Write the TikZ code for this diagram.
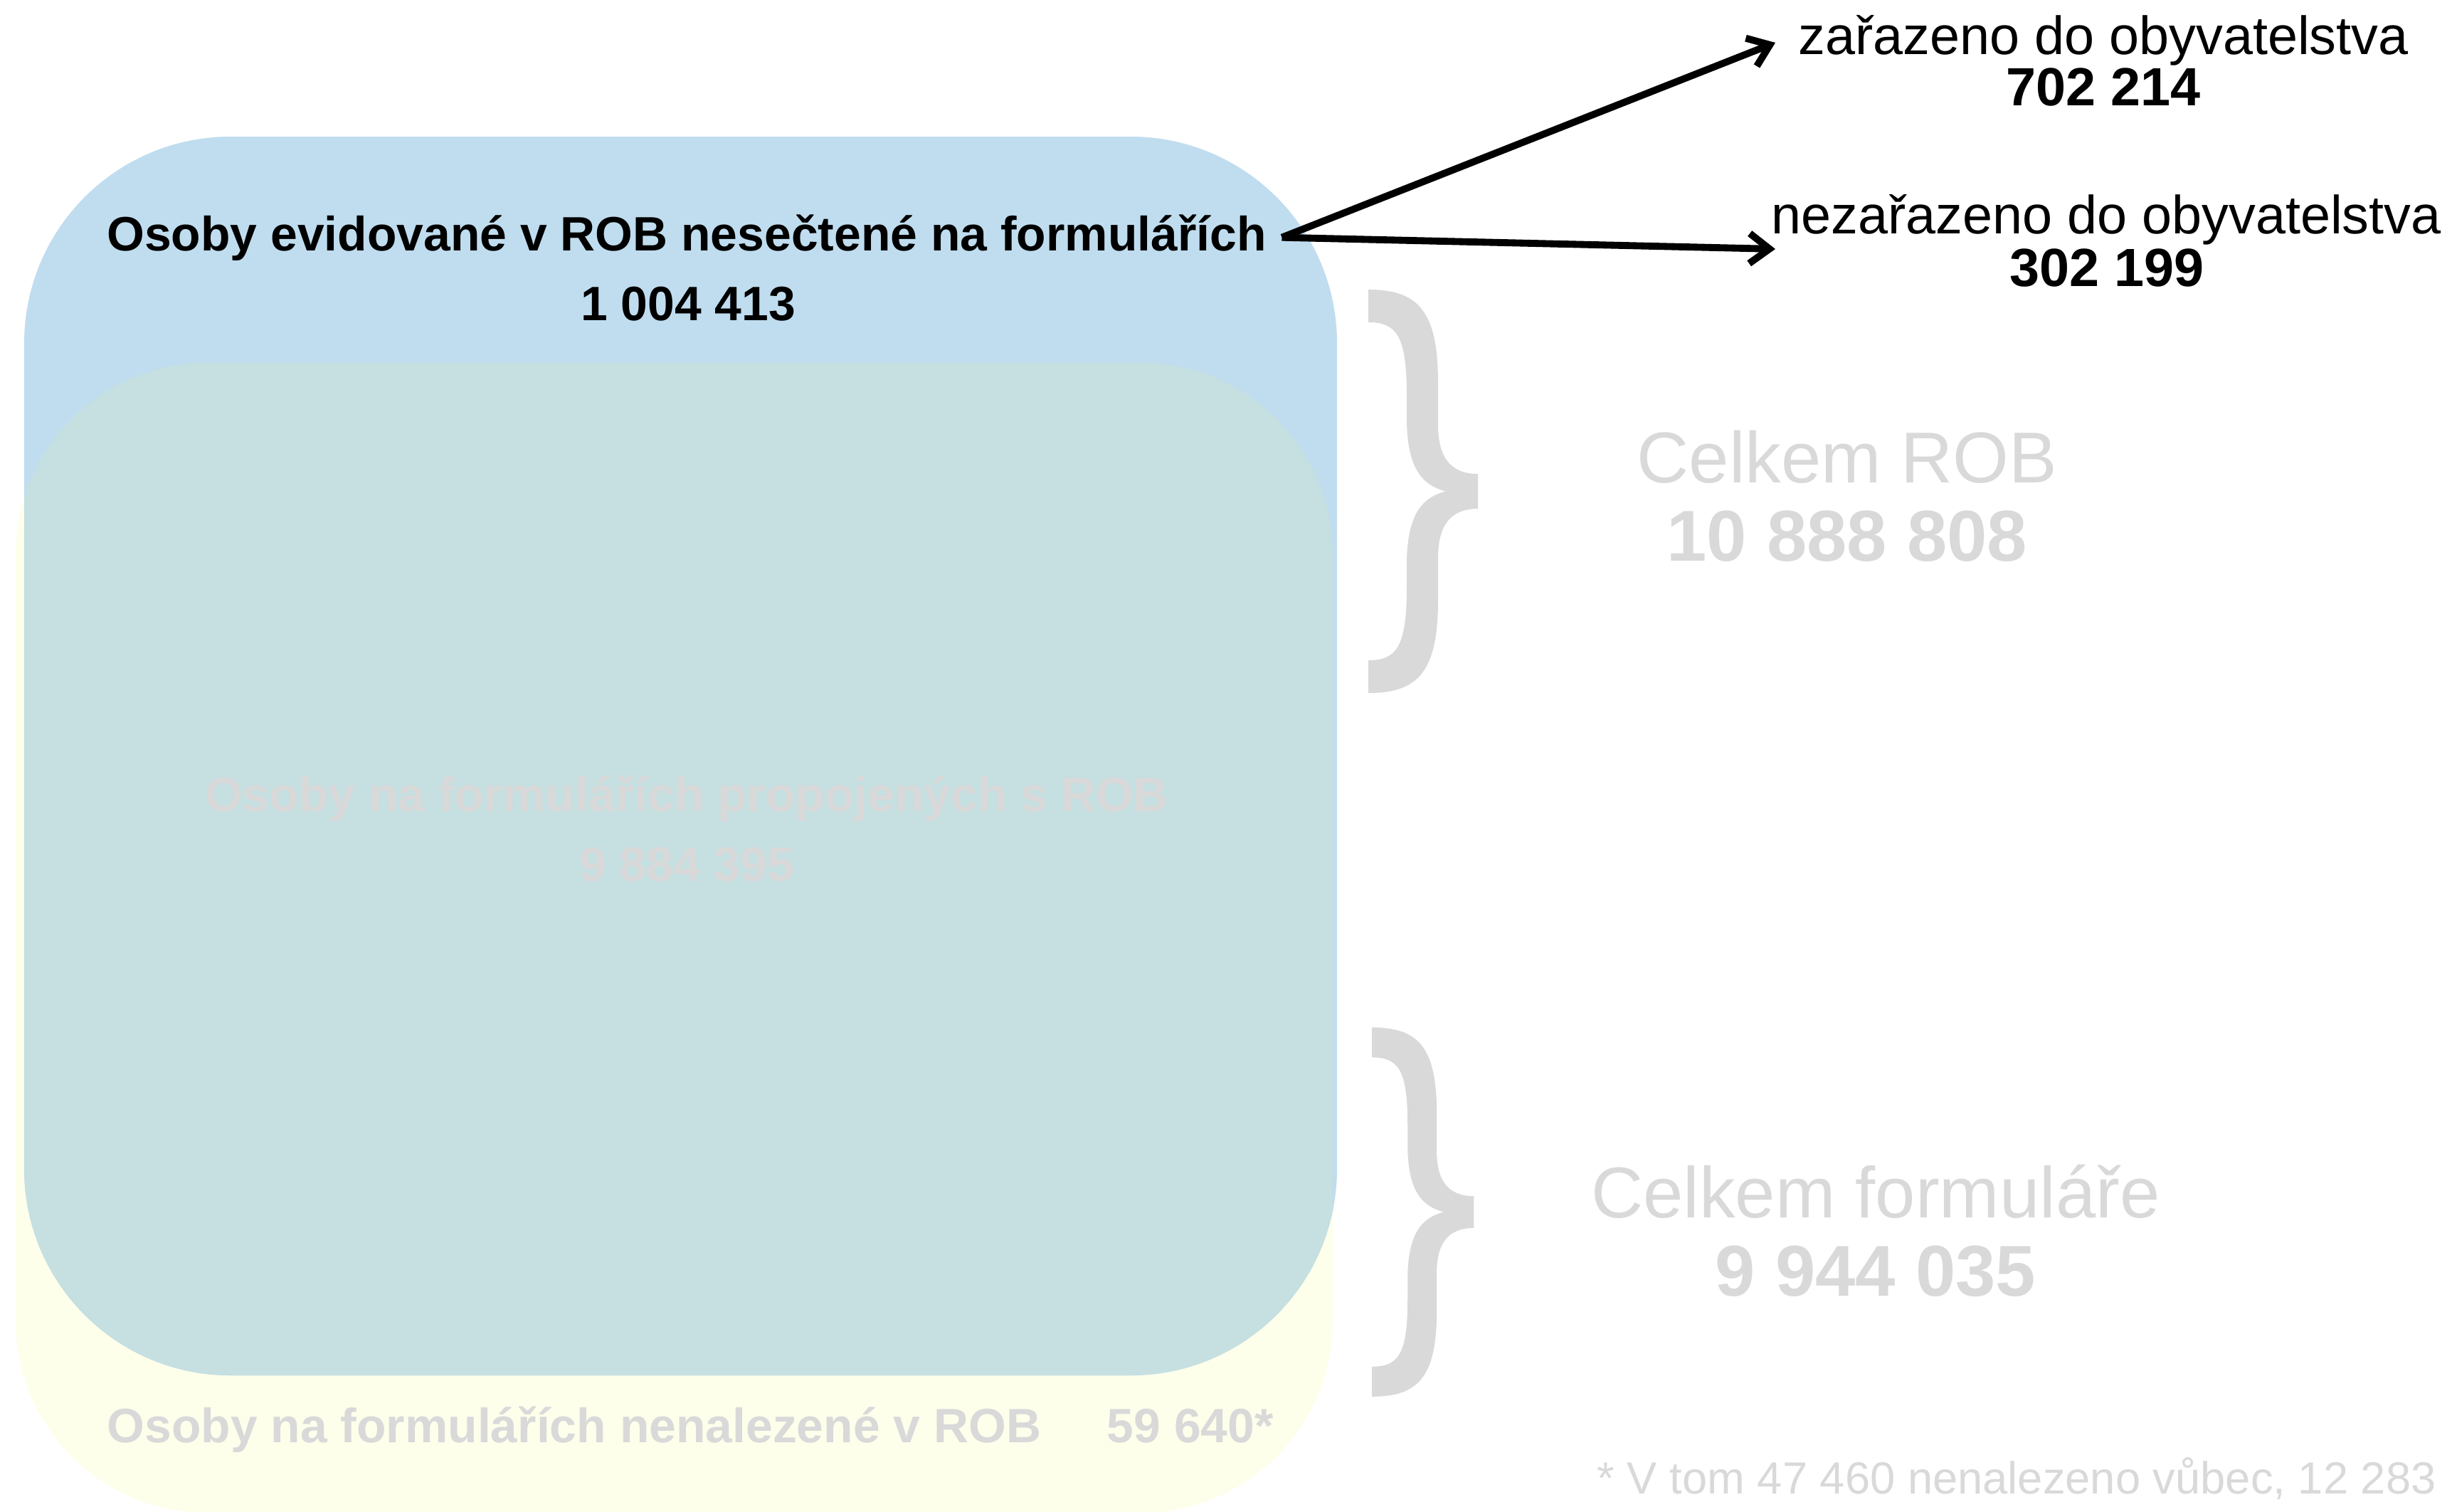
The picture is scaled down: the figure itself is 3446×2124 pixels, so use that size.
\documentclass[tikz,border=0pt]{standalone}
\usepackage{fontspec}
\setmainfont{Liberation Sans}
\usetikzlibrary{arrows.meta, positioning}

\definecolor{robblue}{HTML}{C0DDEF}
\definecolor{formyellow}{HTML}{FDFFEB}
\definecolor{overlap}{HTML}{C6DFE1}
\definecolor{lightgrey}{HTML}{D9D9D9}

\tikzset{
  setbrace/.pic={
    \fill[lightgrey] (0,0) .. controls (70,0) and (98,30) .. (98,131) -- (98,190)
      .. controls (98,235) and (115,259) .. (154,259) -- (154,308)
      .. controls (115,308) and (98,332) .. (98,377) -- (98,436)
      .. controls (98,537) and (70,567) .. (0,567) -- (0,521)
      .. controls (40,521) and (54,502) .. (54,417) -- (54,387)
      .. controls (54,317) and (75,292) .. (109,283.5)
      .. controls (75,275) and (54,250) .. (54,180) -- (54,150)
      .. controls (54,65) and (40,46) .. (0,46) -- cycle;
  }
}

\begin{document}
\begin{tikzpicture}[x=0.01cm, y=-0.01cm,
    lbl/.style={inner sep=0pt, anchor=base, font=\fontsize{19.3}{23}\selectfont\bfseries},
    side/.style={inner sep=0pt, anchor=base, font=\fontsize{21.5}{26}\selectfont},
    sidenum/.style={side, font=\fontsize{21.5}{26}\selectfont\bfseries},
    total/.style={inner sep=0pt, anchor=base, text=lightgrey, font=\fontsize{28.8}{34}\selectfont},
    totalnum/.style={total, font=\fontsize{28.8}{34}\selectfont\bfseries},
    arr/.style={-{Straight Barb[length=8pt, width=12pt]}, line width=2.8pt}]

    \useasboundingbox (0,0) rectangle (3446,2124);

    % ROB and formulare sets
    \fill[formyellow, rounded corners=2.69cm] (22,510) rectangle (1873,2126);
    \fill[robblue, rounded corners=2.9cm] (34,192) rectangle (1879,1933);
    \begin{scope}
        \clip[rounded corners=2.69cm] (22,510) rectangle (1873,2126);
        \fill[overlap, rounded corners=2.9cm] (34,192) rectangle (1879,1933);
    \end{scope}

    \node[lbl, inner sep=6pt] (osoby) at (965,352) {Osoby evidované v ROB nesečtené na formulářích};
    \node[lbl] (osobynum) at (967,450) {1 004 413};
    \node[lbl, text=lightgrey] (propojene) at (965,1140) {Osoby na formulářích propojených s ROB};
    \node[lbl, text=lightgrey] (propojenenum) at (965,1238) {9 884 395};
    \node[lbl, text=lightgrey, anchor=base west] (nenalezene) at (150,2027) {Osoby na formulářích nenalezené v ROB};
    \node[lbl, text=lightgrey, anchor=base west] (nenalezenenum) at (1555,2027) {59 640*};

    \node[side] (zarazeno) at (2956,77) {zařazeno do obyvatelstva};
    \node[sidenum] (zarazenonum) at (2956,148) {702 214};
    \node[side] (nezarazeno) at (2960,328) {nezařazeno do obyvatelstva};
    \node[sidenum] (nezarazenonum) at (2961,402) {302 199};

    \coordinate (tipzar) at (2495,60);
    \coordinate (tipnezar) at (2495,350);
    \draw[arr] (osoby.east) -- (tipzar);
    \draw[arr] (osoby.east) -- (tipnezar);

    % braces + totals
    \pic at (1923,407) {setbrace};
    \pic[xscale=0.93, yscale=0.915] at (1928,1444) {setbrace};

    \node[total] (celkemrob) at (2596,678) {Celkem ROB};
    \node[totalnum] (celkemrobnum) at (2596,788) {10 888 808};
    \node[total] (celkemform) at (2636,1711) {Celkem formuláře};
    \node[totalnum] (celkemformnum) at (2636,1821) {9 944 035};

    \node[inner sep=0pt, anchor=base west, text=lightgrey, font=\fontsize{18}{22}\selectfont] (poznamka) at (2244,2099) {* V tom 47 460 nenalezeno vůbec, 12 283};
\end{tikzpicture}
\end{document}
